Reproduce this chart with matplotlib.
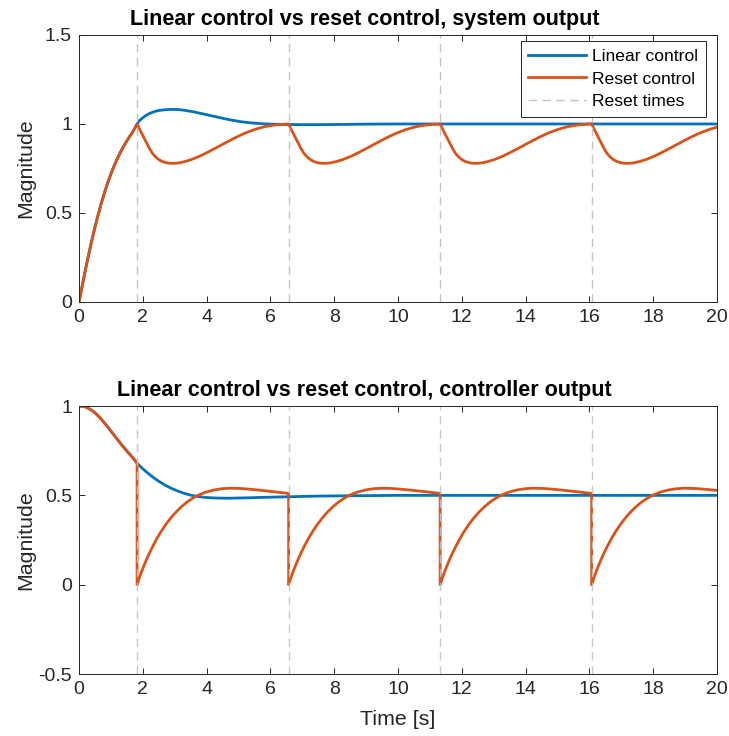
import numpy as np
import matplotlib
matplotlib.use("Agg")
import matplotlib.pyplot as plt

plt.rcParams['font.family'] = ['Liberation Sans', 'DejaVu Sans']

# reset instants [s]
reset_times = [1.82, 6.57, 11.32, 16.07]

# system output, linear controller
t_lin_sys = [0, 0.1, 0.2, 0.3, 0.4, 0.5, 0.6, 0.7, 0.8, 0.9, 1.0, 1.1, 1.2, 1.3, 1.4, 1.5, 1.6, 1.7, 1.82,
             1.9, 2.0, 2.1, 2.2, 2.35, 2.5, 2.7, 2.9, 3.1, 3.3, 3.6, 3.9, 4.2, 4.5, 4.8, 5.1, 5.4, 5.7,
             6.0, 6.5, 7.0, 7.5, 8.0, 9.0, 10.0, 20.0]
y_lin_sys = [0, 0.09, 0.18, 0.265, 0.345, 0.42, 0.49, 0.555, 0.615, 0.67, 0.72, 0.765, 0.805, 0.842, 0.875,
             0.905, 0.933, 0.96, 1.0,
             1.02, 1.035, 1.048, 1.058, 1.069, 1.076, 1.08, 1.082, 1.081, 1.077, 1.068, 1.056, 1.044, 1.032,
             1.021, 1.012, 1.006, 1.002, 0.999, 0.997, 0.996, 0.996, 0.997, 0.999, 1.0, 1.0]

# system output, reset controller
t_rst_sys = [0, 0.1, 0.2, 0.3, 0.4, 0.5, 0.6, 0.7, 0.8, 0.9, 1.0, 1.1, 1.2, 1.3, 1.4, 1.5, 1.6, 1.7,
             1.82, 1.90, 2.00, 2.10, 2.20, 2.30, 2.40, 2.50, 2.60, 2.72, 2.85, 3.00, 3.15, 3.32, 3.52, 3.77,
             4.02, 4.32, 4.62, 4.92, 5.22, 5.52, 5.82, 6.12, 6.37,
             6.57, 6.65, 6.75, 6.85, 6.95, 7.05, 7.15, 7.25, 7.35, 7.47, 7.60, 7.75, 7.90, 8.07, 8.27, 8.52,
             8.77, 9.07, 9.37, 9.67, 9.97, 10.27, 10.57, 10.87, 11.12,
             11.32, 11.40, 11.50, 11.60, 11.70, 11.80, 11.90, 12.00, 12.10, 12.22, 12.35, 12.50, 12.65, 12.82,
             13.02, 13.27, 13.52, 13.82, 14.12, 14.42, 14.72, 15.02, 15.32, 15.62, 15.87,
             16.07, 16.15, 16.25, 16.35, 16.45, 16.55, 16.65, 16.75, 16.85, 16.97, 17.10, 17.25, 17.40, 17.57,
             17.77, 18.02, 18.27, 18.57, 18.87, 19.17, 19.47, 19.77, 20.00]
y_rst_sys = [0, 0.09, 0.18, 0.265, 0.345, 0.42, 0.49, 0.555, 0.615, 0.67, 0.72, 0.765, 0.805, 0.842, 0.875,
             0.905, 0.933, 0.96,
             1.0, 0.97, 0.935, 0.9, 0.865, 0.835, 0.815, 0.8, 0.79, 0.783, 0.779, 0.779, 0.782, 0.789, 0.80,
             0.818, 0.84, 0.868, 0.897, 0.925, 0.95, 0.97, 0.985, 0.994, 0.998,
             1.0, 0.97, 0.935, 0.9, 0.865, 0.835, 0.815, 0.8, 0.79, 0.783, 0.779, 0.779, 0.782, 0.789, 0.80,
             0.818, 0.84, 0.868, 0.897, 0.925, 0.95, 0.97, 0.985, 0.994, 0.998,
             1.0, 0.97, 0.935, 0.9, 0.865, 0.835, 0.815, 0.8, 0.79, 0.783, 0.779, 0.779, 0.782, 0.789, 0.80,
             0.818, 0.84, 0.868, 0.897, 0.925, 0.95, 0.97, 0.985, 0.994, 0.998,
             1.0, 0.97, 0.935, 0.9, 0.865, 0.835, 0.815, 0.8, 0.79, 0.783, 0.779, 0.779, 0.782, 0.789, 0.80,
             0.818, 0.84, 0.868, 0.897, 0.925, 0.95, 0.97, 0.982]

# controller output, linear controller
t_lin_ctl = [0, 0.1, 0.2, 0.3, 0.4, 0.5, 0.6, 0.7, 0.8, 0.9, 1.0, 1.1, 1.2, 1.3, 1.4, 1.5, 1.6, 1.7, 1.82,
             1.95, 2.1, 2.3, 2.5, 2.7, 2.9, 3.1, 3.3, 3.5, 3.75, 4.0, 4.3, 4.7, 5.2, 5.8, 6.5, 7.5, 8.5,
             10.0, 20.0]
y_lin_ctl = [1.0, 0.999, 0.995, 0.987, 0.976, 0.962, 0.945, 0.926, 0.905, 0.883, 0.86, 0.837, 0.814, 0.791,
             0.769, 0.748, 0.728, 0.708, 0.68,
             0.657, 0.633, 0.604, 0.579, 0.557, 0.539, 0.524, 0.511, 0.501, 0.493, 0.488, 0.485, 0.484,
             0.486, 0.489, 0.492, 0.496, 0.498, 0.5, 0.5]

# controller output, reset controller (jumps to zero at each reset)
t_rst_ctl = [0, 0.1, 0.2, 0.3, 0.4, 0.5, 0.6, 0.7, 0.8, 0.9, 1.0, 1.1, 1.2, 1.3, 1.4, 1.5, 1.6, 1.7, 1.82,
             1.82, 1.87, 1.94, 2.02, 2.12, 2.22, 2.32, 2.44, 2.57, 2.72, 2.87, 3.02, 3.20, 3.38, 3.57, 3.77,
             3.97, 4.22, 4.47, 4.72, 5.02, 5.32, 5.62, 5.92, 6.22, 6.57,
             6.57, 6.62, 6.69, 6.77, 6.87, 6.97, 7.07, 7.19, 7.32, 7.47, 7.62, 7.77, 7.95, 8.13, 8.32, 8.52,
             8.72, 8.97, 9.22, 9.47, 9.77, 10.07, 10.37, 10.67, 10.97, 11.32,
             11.32, 11.37, 11.44, 11.52, 11.62, 11.72, 11.82, 11.94, 12.07, 12.22, 12.37, 12.52, 12.70, 12.88,
             13.07, 13.27, 13.47, 13.72, 13.97, 14.22, 14.52, 14.82, 15.12, 15.42, 15.72, 16.07,
             16.07, 16.12, 16.19, 16.27, 16.37, 16.47, 16.57, 16.69, 16.82, 16.97, 17.12, 17.27, 17.45, 17.63,
             17.82, 18.02, 18.22, 18.47, 18.72, 18.97, 19.27, 19.57, 19.87, 20.0]
y_rst_ctl = [1.0, 0.999, 0.995, 0.987, 0.976, 0.962, 0.945, 0.926, 0.905, 0.883, 0.86, 0.837, 0.814, 0.791,
             0.769, 0.748, 0.728, 0.708, 0.68,
             0, 0.027, 0.063, 0.1, 0.143, 0.182, 0.218, 0.258, 0.297, 0.337, 0.372, 0.403, 0.435, 0.462, 0.485,
             0.504, 0.518, 0.53, 0.537, 0.54, 0.539, 0.535, 0.53, 0.524, 0.518, 0.511,
             0, 0.027, 0.063, 0.1, 0.143, 0.182, 0.218, 0.258, 0.297, 0.337, 0.372, 0.403, 0.435, 0.462, 0.485,
             0.504, 0.518, 0.53, 0.537, 0.54, 0.539, 0.535, 0.53, 0.524, 0.518, 0.511,
             0, 0.027, 0.063, 0.1, 0.143, 0.182, 0.218, 0.258, 0.297, 0.337, 0.372, 0.403, 0.435, 0.462, 0.485,
             0.504, 0.518, 0.53, 0.537, 0.54, 0.539, 0.535, 0.53, 0.524, 0.518, 0.511,
             0, 0.027, 0.063, 0.1, 0.143, 0.182, 0.218, 0.258, 0.297, 0.337, 0.372, 0.403, 0.435, 0.462, 0.485,
             0.504, 0.518, 0.53, 0.537, 0.54, 0.539, 0.535, 0.53, 0.528]

blue = '#0072BD'
orange = '#D95319'
grey = '#262626'

fig = plt.figure(figsize=(7.29, 7.36), dpi=100)
ax1 = fig.add_axes([0.1084, 0.5897, 0.8752, 0.3628])
ax2 = fig.add_axes([0.1084, 0.0842, 0.8752, 0.3641])


def style(ax):
    ax.set_xlim(0, 20)
    ax.set_xticks(np.arange(0, 21, 2))
    ax.tick_params(direction='in', top=True, right=True, length=4, width=0.7,
                   labelsize=14, colors=grey, pad=5)
    for s in ax.spines.values():
        s.set_color(grey)
        s.set_linewidth(0.7)
    ax.yaxis.set_label_coords(-0.069, 0.5)


ax1.plot(t_lin_sys, y_lin_sys, color=blue, lw=2, label='Linear control')
ax1.plot(t_rst_sys, y_rst_sys, color=orange, lw=2, label='Reset control')
for i, rt in enumerate(reset_times):
    ax1.axvline(rt, color='#c4c4c4', lw=1, dashes=(6, 4),
                label='Reset times' if i == 0 else None)
ax1.set_ylim(0, 1.5)
ax1.set_yticks([0, 0.5, 1, 1.5])
ax1.set_yticklabels(['0', '0.5', '1', '1.5'])
style(ax1)
ax1.set_ylabel('Magnitude', fontsize=15.4, color=grey)
ax1.set_title('Linear control vs reset control, system output', fontsize=15.5,
              fontweight='bold', pad=7, x=0.4475)
leg = ax1.legend(loc='upper right', bbox_to_anchor=(0.983, 0.978), fontsize=12.6,
                 fancybox=False, edgecolor=grey, framealpha=1, handlelength=3.3,
                 borderpad=0.45, labelspacing=0.42, handletextpad=0.35, borderaxespad=0)
leg.get_frame().set_linewidth(0.7)

ax2.plot(t_lin_ctl, y_lin_ctl, color=blue, lw=2)
ax2.plot(t_rst_ctl, y_rst_ctl, color=orange, lw=2)
for rt in reset_times:
    ax2.axvline(rt, color='#c4c4c4', lw=1, dashes=(6, 4), alpha=0.9)
ax2.set_ylim(-0.5, 1)
ax2.set_yticks([-0.5, 0, 0.5, 1])
ax2.set_yticklabels(['-0.5', '0', '0.5', '1'])
style(ax2)
ax2.set_ylabel('Magnitude', fontsize=15.4, color=grey)
ax2.set_xlabel('Time [s]', fontsize=15.4, color=grey, labelpad=8.5)
ax2.set_title('Linear control vs reset control, controller output', fontsize=15.5,
              fontweight='bold', pad=7, x=0.4475)

fig.savefig('out.png', dpi=100)
